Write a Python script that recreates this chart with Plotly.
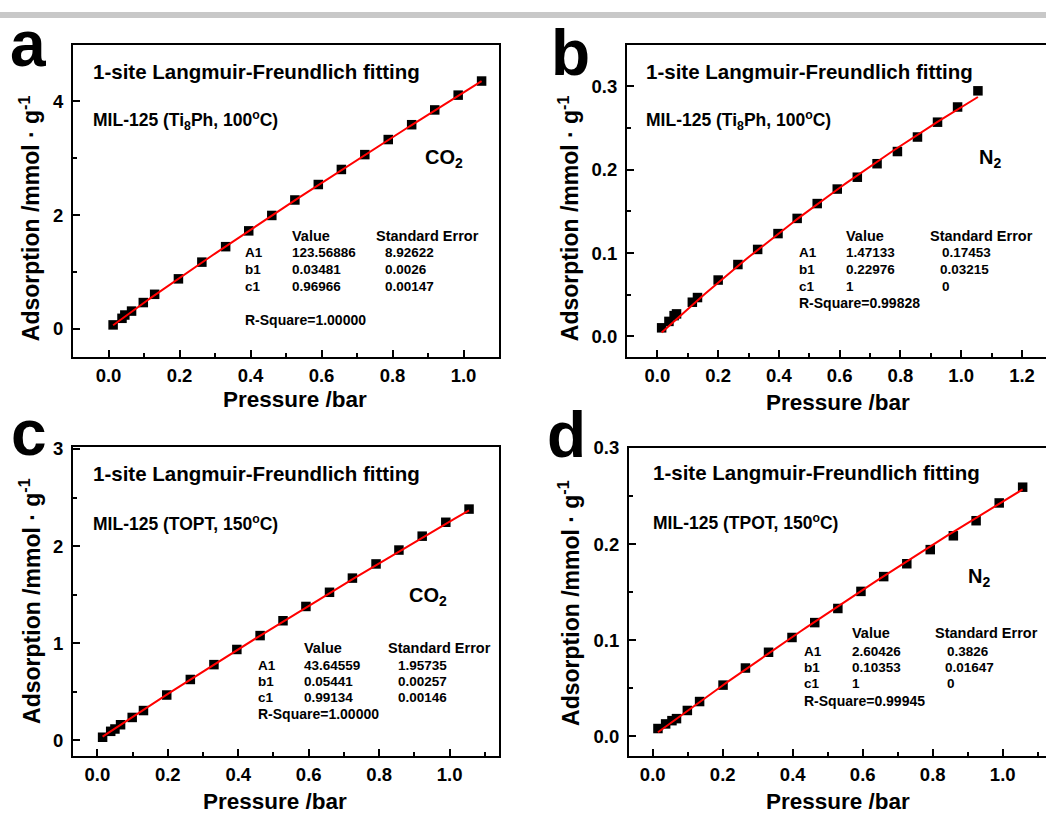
import numpy as np
import plotly.graph_objects as go

W, H = 1046, 814
FONT = "Liberation Sans, Arial, sans-serif"

# ---------------- data ----------------
a_p = [0.013, 0.038, 0.046, 0.065, 0.098, 0.130, 0.197, 0.263, 0.330, 0.395,
       0.460, 0.525, 0.591, 0.656, 0.722, 0.788, 0.854, 0.919, 0.985, 1.051]
a_q = [0.069, 0.185, 0.243, 0.312, 0.462, 0.607, 0.879, 1.173, 1.445, 1.723,
       1.994, 2.266, 2.538, 2.803, 3.064, 3.329, 3.590, 3.850, 4.110, 4.358]

b_p = [0.014, 0.038, 0.055, 0.063, 0.115, 0.132, 0.200, 0.265, 0.330, 0.397,
       0.460, 0.526, 0.592, 0.658, 0.723, 0.790, 0.856, 0.922, 0.988, 1.055]
b_q = [0.0103, 0.0180, 0.0249, 0.0270, 0.0410, 0.0466, 0.0676, 0.0862, 0.1043, 0.1233,
       0.1415, 0.1593, 0.1767, 0.1909, 0.2071, 0.2217, 0.2391, 0.2569, 0.2751, 0.2945]

c_p = [0.015, 0.038, 0.050, 0.066, 0.099, 0.131, 0.197, 0.264, 0.331, 0.396,
       0.462, 0.527, 0.592, 0.659, 0.724, 0.791, 0.856, 0.922, 0.989, 1.055]
c_q = [0.031, 0.092, 0.116, 0.160, 0.235, 0.306, 0.466, 0.626, 0.779, 0.935,
       1.078, 1.231, 1.378, 1.524, 1.670, 1.816, 1.959, 2.102, 2.245, 2.381]

d_p = [0.015, 0.037, 0.055, 0.068, 0.099, 0.134, 0.201, 0.265, 0.331, 0.398,
       0.463, 0.529, 0.595, 0.660, 0.726, 0.793, 0.859, 0.924, 0.990, 1.057]
d_q = [0.0079, 0.0127, 0.0161, 0.0182, 0.0267, 0.0360, 0.0531, 0.0709, 0.0873, 0.1027,
       0.1182, 0.1329, 0.1507, 0.1661, 0.1795, 0.1942, 0.2086, 0.2243, 0.2428, 0.2592]

# fitted Langmuir-Freundlich parameters shown on the chart
fit_A1 = [123.56886, 1.47133, 43.64559, 2.60426]
fit_b1 = [0.03481, 0.22976, 0.05441, 0.10353]
fit_c1 = [0.96966, 1, 0.99134, 1]
err_A1 = ["8.92622", "0.17453", "1.95735", "0.3826"]
err_b1 = ["0.0026", "0.03215", "0.00257", "0.01647"]
err_c1 = ["0.00147", "0", "0.00146", "0"]
val_A1 = ["123.56886", "1.47133", "43.64559", "2.60426"]
val_b1 = ["0.03481", "0.22976", "0.05441", "0.10353"]
val_c1 = ["0.96966", "1", "0.99134", "1"]
r_square = ["1.00000", "0.99828", "1.00000", "0.99945"]
samples = ["MIL-125 (Ti<sub>8</sub>Ph, 100<sup>o</sup>C)",
           "MIL-125 (Ti<sub>8</sub>Ph, 100<sup>o</sup>C)",
           "MIL-125 (TOPT, 150<sup>o</sup>C)",
           "MIL-125 (TPOT, 150<sup>o</sup>C)"]
gases = ["CO<sub>2</sub>", "N<sub>2</sub>", "CO<sub>2</sub>", "N<sub>2</sub>"]
letters = ["a", "b", "c", "d"]

series = [(a_p, a_q), (b_p, b_q), (c_p, c_q), (d_p, d_q)]


def px(x):
    return x / W


def py(y):
    return 1 - y / H


# ---------------- layout geometry (pixels) ----------------
panels = [
    dict(xd=(73, 499), yd=(34, 351), xr=[-0.1, 1.1], yr=[-0.5, 5.0], ydt=2, ymin=1, ymirror=True),
    dict(xd=(627, 1046), yd=(34, 351), xr=[-0.1, 1.279], yr=[-0.025, 0.35], ydt=0.1, ymin=0.05, ymirror=False),
    dict(xd=(73, 499), yd=(442, 755), xr=[-0.069, 1.14], yr=[-0.16, 3.02], ydt=1, ymin=0.5, ymirror=True),
    dict(xd=(629, 1046), yd=(443, 755), xr=[-0.0677, 1.1237], yr=[-0.0205, 0.3], ydt=0.1, ymin=0.05, ymirror=False),
]

fig = go.Figure()
layout = dict(width=W, height=H, margin=dict(l=0, r=0, t=0, b=0),
              paper_bgcolor="white", plot_bgcolor="white", showlegend=False,
              font=dict(family=FONT, color="black"))

tickfont = dict(family=FONT, size=18.5, color="black", weight="bold")

for i, pn in enumerate(panels):
    k = "" if i == 0 else str(i + 1)
    xa = "x" + k
    ya = "y" + k
    p, q = series[i]
    # fitted curve from the displayed parameters
    xf = np.linspace(p[0], p[-1], 80)
    pc = xf ** fit_c1[i]
    yf = fit_A1[i] * fit_b1[i] * pc / (1 + fit_b1[i] * pc)
    fig.add_trace(go.Scatter(x=p, y=q, mode="markers", xaxis=xa, yaxis=ya,
                             marker=dict(symbol="square", size=9.5, color="black"),
                             cliponaxis=False))
    fig.add_trace(go.Scatter(x=xf, y=yf, mode="lines", xaxis=xa, yaxis=ya,
                             line=dict(color="#ff0000", width=2)))
    layout["xaxis" + k] = dict(
        domain=[px(pn["xd"][0]), min(1.0, px(pn["xd"][1]))], range=pn["xr"], anchor=ya,
        showline=True, linewidth=2, linecolor="black", mirror=True,
        showgrid=False, zeroline=False, tickmode="linear", tick0=0, dtick=0.2,
        ticks="inside", ticklen=7, tickwidth=2, tickcolor="black",
        minor=dict(dtick=0.1, ticks="inside", ticklen=4, tickwidth=2, tickcolor="black", showgrid=False),
        tickfont=tickfont, tickformat=".1f", ticklabelstandoff=1)
    layout["yaxis" + k] = dict(
        domain=[py(pn["yd"][1]), py(pn["yd"][0])], range=pn["yr"], anchor=xa,
        showline=True, linewidth=2, linecolor="black", mirror=pn["ymirror"],
        showgrid=False, zeroline=False, tickmode="linear", tick0=0, dtick=pn["ydt"],
        ticks="inside", ticklen=7, tickwidth=2, tickcolor="black",
        minor=dict(dtick=pn["ymin"], ticks="inside", ticklen=4, tickwidth=2, tickcolor="black", showgrid=False),
        tickfont=tickfont, tickformat=(".1f" if pn["ydt"] < 1 else "d"), ticklabelstandoff=4)

annotations = []


def txt(x, y, s, size, xanchor="left", bold=True, angle=0):
    annotations.append(dict(x=px(x), y=py(y), xref="paper", yref="paper", text=(f"<b>{s}</b>" if bold else s),
                            showarrow=False, xanchor=xanchor, yanchor="middle", textangle=angle,
                            font=dict(family=FONT, size=size, color="black")))


# text positions (pixels)
pos = [
    dict(fit=(91, 61), mil=(91, 111), gas=(423, 150), val=290, se=374, err=383, lab=243,
         rows=(228, 245, 262, 279), r2=313, letter=(28, 33), xt=(295, 394), yt=(30, 210)),
    dict(fit=(644, 61), mil=(644, 111), gas=(977, 150), val=844, se=928, err=938, lab=797,
         rows=(228, 245, 262, 279), r2=296, letter=(570, 43), xt=(838, 397), yt=(569, 210)),
    dict(fit=(91, 469), mil=(91, 519), gas=(407, 594), val=302, se=386, err=396, lab=256,
         rows=(646, 663, 680, 696), r2=713, letter=(29, 428), xt=(275, 801), yt=(30, 598)),
    dict(fit=(651, 468), mil=(651, 518), gas=(966, 574), val=850, se=933, err=943, lab=802,
         rows=(631, 649, 665, 682), r2=699, letter=(566, 430), xt=(838, 801), yt=(569, 600)),
]

for i, ps in enumerate(pos):
    txt(*ps["fit"], "1-site Langmuir-Freundlich fitting", 20.5)
    txt(*ps["mil"], samples[i], 17.5)
    txt(*ps["gas"], gases[i], 20)
    r = ps["rows"]
    txt(ps["val"], r[0], "Value", 14.5)
    txt(ps["se"], r[0], "Standard Error", 14.5)
    txt(ps["lab"], r[1], "A1", 13.5)
    txt(ps["lab"], r[2], "b1", 13.5)
    txt(ps["lab"], r[3], "c1", 13.5)
    txt(ps["val"], r[1], val_A1[i], 13.5)
    txt(ps["val"], r[2], val_b1[i], 13.5)
    txt(ps["val"], r[3], val_c1[i], 13.5)
    txt(ps["err"] + (2 if err_c1[i] == "0" else 0), r[1], err_A1[i], 13.5)
    txt(ps["err"], r[2], err_b1[i], 13.5)
    txt(ps["err"] + (2 if err_c1[i] == "0" else 0), r[3], err_c1[i], 13.5)
    txt(ps["lab"], ps["r2"], "R-Square=" + r_square[i], 14)
    txt(ps["letter"][0], ps["letter"][1], letters[i], 64, xanchor="center")
    txt(ps["xt"][0], ps["xt"][1], "Pressure /bar", 22.5, xanchor="center")
    txt(ps["yt"][0], ps["yt"][1], "Adsorption /mmol · g<sup>-1</sup>", 23, xanchor="center", angle=-90)

layout["annotations"] = annotations
layout["shapes"] = [dict(type="rect", xref="paper", yref="paper", x0=0, x1=1, y0=py(7), y1=py(1),
                         fillcolor="#c8c8c8", line=dict(width=0), layer="above")]

fig.update_layout(**layout)
fig.write_html("out.html")
